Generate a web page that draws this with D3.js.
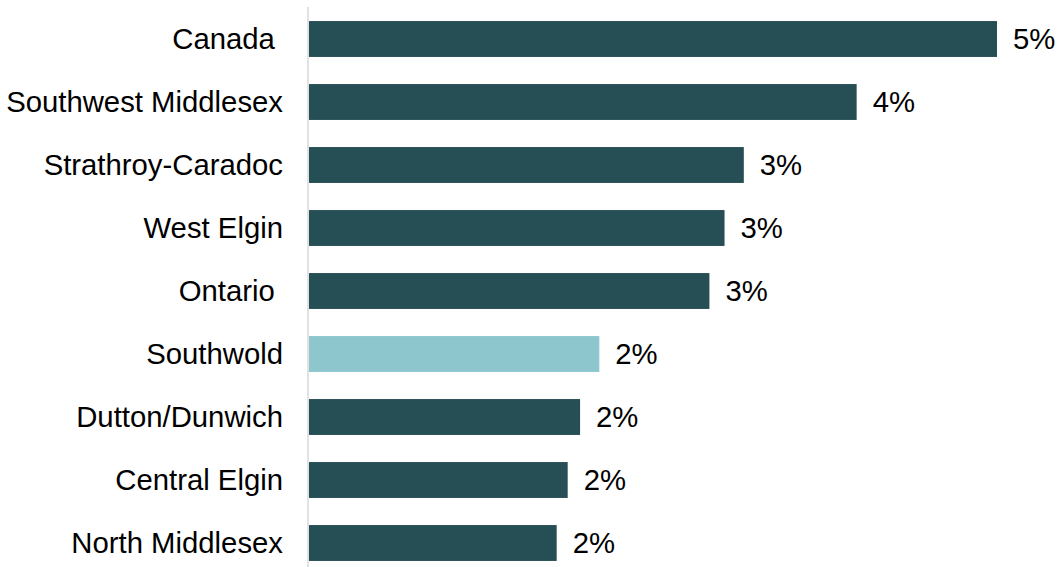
<!DOCTYPE html>
<html>
<head>
<meta charset="utf-8">
<script src="https://cdn.jsdelivr.net/npm/d3@7"></script>
<style>
  html, body { margin: 0; padding: 0; background: #ffffff; }
  svg { display: block; }
  text { font-family: "Liberation Sans", Arial, sans-serif; fill: #000000; }
</style>
</head>
<body>
<svg id="chart" width="1058" height="567"></svg>
<script>
// Share of population by area (percent), sorted descending
const areas = [
  "Canada ",
  "Southwest Middlesex",
  "Strathroy-Caradoc",
  "West Elgin",
  "Ontario ",
  "Southwold",
  "Dutton/Dunwich",
  "Central Elgin",
  "North Middlesex"
];
const shares = [0.0500, 0.0398, 0.0316, 0.0302, 0.0291, 0.0211, 0.0197, 0.0188, 0.0180];
const highlightArea = "Southwold";

const colors = { base: "#264f55", highlight: "#8ec6cd", axis: "#d9d9d9" };

const svg = d3.select("#chart");

const x = d3.scaleLinear().domain([0, 0.05]).range([309, 997]);
const y = d3.scaleBand().domain(areas).range([7.5, 574.5]).paddingInner(0.43).paddingOuter(0.215);

const rows = areas.map((a, i) => ({ area: a, value: shares[i] }));

// Bars
svg.append("g").selectAll("rect")
  .data(rows)
  .join("rect")
  .attr("x", x(0))
  .attr("y", d => y(d.area))
  .attr("width", d => x(d.value) - x(0))
  .attr("height", y.bandwidth())
  .attr("fill", d => d.area.trim() === highlightArea ? colors.highlight : colors.base);

// Vertical baseline
svg.append("line")
  .attr("x1", x(0) - 1).attr("x2", x(0) - 1)
  .attr("y1", 7).attr("y2", 567)
  .attr("stroke", colors.axis)
  .attr("stroke-width", 1.5);

// Category labels
svg.append("g").selectAll("text")
  .data(rows)
  .join("text")
  .attr("x", 283)
  .attr("y", d => y(d.area) + y.bandwidth() / 2)
  .attr("dy", "0.35em")
  .attr("text-anchor", "end")
  .style("white-space", "pre")
  .attr("font-size", 29.3)
  .text(d => d.area);

// Value labels
const fmt = d3.format(".0%");
svg.append("g").selectAll("text")
  .data(rows)
  .join("text")
  .attr("x", d => x(d.value) + 16)
  .attr("y", d => y(d.area) + y.bandwidth() / 2)
  .attr("dy", "0.35em")
  .attr("font-size", 29.3)
  .text(d => fmt(d.value));
</script>
</body>
</html>
